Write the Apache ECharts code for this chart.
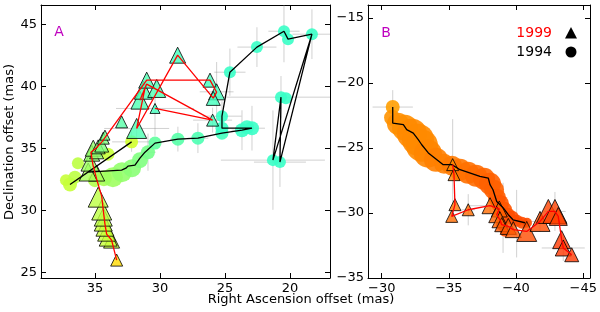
<!DOCTYPE html>
<html><head><meta charset="utf-8">
<script src="https://cdn.jsdelivr.net/npm/echarts@6/dist/echarts.min.js"></script>
<style>html,body{margin:0;padding:0;background:#fff}#c{width:600px;height:312px}</style>
</head><body><div id="c"></div>
<script>
// ---------- Panel A (1994 circles) ----------
const circA_x = [36.92,37.23,36.54,36.31,35.0,34.31,34.0,32.18,33.62,32.92,32.15,31.54,30.92,30.38,28.62,27.08,25.23,25.23,23.69,23.31,22.92,25.23,24.62,22.54,20.46,20.15,18.31,20.69,20.31,21.31,20.77];
const circA_y = [32.10,32.45,32.69,33.81,32.45,32.61,34.54,35.53,32.69,33.09,33.41,34.06,34.70,35.43,35.75,35.83,36.23,36.63,36.47,36.71,36.63,37.60,41.14,43.16,44.44,43.80,44.20,39.13,39.05,34.06,33.90];
const circA_flux = [7,6,6.5,6,7,8,6.5,6.5,10,10,9,8,7,6.5,6.5,6.5,6.5,6.5,7,7,7,6,6,6,6,6,6,6,6,6,6];
const circA_vel = [0.57,0.57,0.56,0.56,0.55,0.54,0.57,0.58,0.53,0.52,0.51,0.5,0.49,0.47,0.46,0.45,0.44,0.43,0.43,0.43,0.43,0.43,0.43,0.43,0.43,0.43,0.43,0.43,0.43,0.43,0.43];
const trackA94_x = [32.18,36.92,35.54,32.95,32.62,32.46,31.92,31.54,31.15,30.38,28.62,27.08,25.23,23.69,22.92,25.23,25.23,24.62,22.54,20.46,20.15,18.31,21.31,20.69,20.77,18.31];
const trackA94_y = [35.53,32.10,33.09,33.25,33.41,33.58,33.66,34.22,34.70,35.43,35.75,35.83,36.23,36.47,36.63,36.63,37.60,41.14,43.16,44.44,43.80,44.20,34.06,39.13,33.90,44.20];
// ---------- Panel A (1999 triangles) ----------
const triA_x = [33.33,33.72,33.98,34.10,34.23,34.36,34.36,34.48,34.75,34.87,35.52,35.38,35.25,35.13,34.87,34.75,34.48,34.36,34.23,32.95,31.79,31.54,31.28,31.02,30.25,30.38,28.64,26.15,25.64,25.90,25.95];
const triA_y = [26.01,27.62,27.86,28.26,28.66,29.07,29.47,30.04,31.08,33.02,33.10,33.90,34.62,35.02,34.73,35.13,35.27,35.83,36.07,37.14,36.61,38.89,39.69,40.50,39.83,38.22,42.51,40.50,39.56,39.03,37.28];
const triA_flux = [6,8,9,9,9,9,9,10,10,8,9,9,8,8,7,7,7,6,5,6,10,9,9,8,9,5,8,7,8,7,6];
const triA_vel = [0.66,0.57,0.57,0.57,0.57,0.57,0.56,0.56,0.56,0.54,0.54,0.53,0.52,0.52,0.52,0.51,0.5,0.5,0.49,0.46,0.45,0.45,0.45,0.45,0.45,0.44,0.44,0.44,0.44,0.44,0.44];
const trackA99_x = [33.33,33.72,34.10,34.23,34.36,34.48,34.85,35.15,35.31,34.92,34.48,31.02,26.15,25.64,25.90,28.64,31.79,31.15,31.54,31.02,25.95,30.38];
const trackA99_y = [26.01,27.62,28.10,28.91,30.04,31.16,32.45,33.66,34.70,35.02,35.51,40.50,40.50,39.53,39.05,42.51,36.61,39.86,38.89,40.18,37.28,38.22];
const errA_x  = [18.31,20.46,22.54,24.62,20.69,21.31,20.77,22.92,23.69,25.23,25.95,30.38,31.79,25.64,32.18,30.92,27.08,28.62];
const errA_y  = [44.20,44.44,43.16,41.14,39.13,34.06,33.90,36.63,36.47,37.60,37.28,38.22,36.61,39.56,35.53,34.70,35.83,35.75];
const errA_dx = [1.5,1.2,1.5,1.2,5.2,4.0,2.0,1.0,0.8,1.5,1.5,3.0,2.5,1.3,1.5,0.6,0.8,0.6];
const errA_dy = [2.0,2.5,1.6,1.9,1.7,4.0,2.0,1.8,1.6,1.2,1.0,2.2,0.8,2.4,0.8,1.5,1.2,1.0];
// ---------- Panel B (1994 circles) ----------
const circB_x = [-30.82,-30.77,-31.21,-31.73,-32.25,-32.70,-33.00,-33.44,-34.04,-34.64,-35.23,-35.83,-36.42,-37.02,-37.62,-38.06,-38.36,-38.58,-38.80,-39.10,-39.40,-39.70,-40.07,-40.44,-40.81,-38.95,-39.17];
const circB_y = [-21.85,-22.67,-23.13,-23.44,-23.90,-24.36,-24.82,-25.44,-25.90,-26.21,-26.36,-26.67,-26.90,-27.13,-27.36,-27.75,-28.21,-28.82,-29.28,-29.75,-30.13,-30.36,-30.59,-30.75,-30.75,-30.90,-31.44];
const circB_flux = [7,8,11,13,15,16,16,14,12,10,10,11,11,11,11,11,10,9,9,8,7,7,6,6,5,6,5];
const circB_vel = [0.72,0.73,0.735,0.735,0.74,0.74,0.74,0.745,0.75,0.75,0.755,0.76,0.765,0.77,0.775,0.78,0.78,0.785,0.79,0.79,0.795,0.8,0.8,0.8,0.8,0.8,0.8];
const trackB94_x = [-30.82,-30.82,-31.61,-31.86,-32.35,-32.72,-32.98,-33.47,-34.58,-35.21,-35.83,-37.31,-37.93,-38.06,-38.28,-38.56,-39.03,-39.42,-39.77,-40.66];
const trackB94_y = [-21.85,-23.08,-23.21,-23.59,-23.85,-24.36,-24.75,-25.38,-26.28,-26.28,-26.67,-27.18,-27.31,-27.82,-28.21,-29.11,-29.59,-30.13,-30.52,-30.75];
// ---------- Panel B (1999 triangles) ----------
const triB_x = [-35.28,-35.38,-35.45,-35.21,-36.44,-38.06,-38.75,-38.56,-38.80,-38.93,-39.42,-39.79,-40.79,-41.78,-42.40,-42.89,-43.14,-43.39,-43.51,-44.14];
const triB_y = [-26.28,-27.05,-29.36,-30.26,-29.75,-29.44,-29.69,-30.13,-30.52,-30.90,-31.03,-31.28,-31.42,-30.65,-29.88,-29.88,-30.26,-32.05,-32.69,-33.21];
const triB_flux = [6,6,6,6,6,8,8,8,8,7,8,8,10,10,12,12,9,9,8,7];
const triB_vel = [0.74,0.75,0.76,0.77,0.77,0.77,0.78,0.78,0.78,0.79,0.79,0.79,0.8,0.8,0.81,0.81,0.81,0.82,0.82,0.82];
const errB_x  = [-30.82,-35.28,-35.23,-39.03,-40.04,-41.78,-43.51,-38.06,-36.44,-42.89];
const errB_y  = [-21.85,-26.28,-26.36,-30.37,-30.82,-30.65,-32.69,-29.44,-29.75,-29.88];
const errB_dx = [1.5,0.6,1.8,0.6,1.0,2.0,1.6,1.5,0.5,0.8];
const errB_dy = [1.3,3.5,0.5,2.7,2.6,0.8,1.0,0.6,1.2,1.5];
// ---------- ticks ----------
const ticksAx = [20,25,30,35];
const ticksAy = [25,30,35,40,45];
const ticksBx = [-45,-40,-35,-30];
const ticksBy = [-35,-30,-25,-20,-15];

function jet(t){const c=v=>Math.round(255*Math.max(0,Math.min(1,v)));return 'rgb('+c(1.5-Math.abs(4*t-3))+','+c(1.5-Math.abs(4*t-2))+','+c(1.5-Math.abs(4*t-1))+')';}
const sz = f => 2*f;
const FONT = 'DejaVu Sans';
const minus = v => String(v).replace('-', '\u2212');

function circles(xs,ys,fl,vel,xi){return {type:'scatter',xAxisIndex:xi,yAxisIndex:xi,symbol:'circle',silent:true,
  data:xs.map((x,i)=>({value:[x,ys[i]],symbolSize:sz(fl[i]),itemStyle:{color:jet(vel[i]),opacity:0.9}}))};}
function tris(xs,ys,fl,vel,xi){return {type:'scatter',xAxisIndex:xi,yAxisIndex:xi,symbol:'triangle',silent:true,
  data:xs.map((x,i)=>({value:[x,ys[i]],symbolSize:sz(fl[i]),itemStyle:{color:jet(vel[i]),borderColor:'#000',borderWidth:1}}))};}
function track(xs,ys,col,xi){return {type:'line',xAxisIndex:xi,yAxisIndex:xi,symbol:'none',silent:true,
  lineStyle:{color:col,width:1.3},data:xs.map((x,i)=>[x,ys[i]])};}
function errs(xs,ys,dx,dy,xi){return {type:'custom',xAxisIndex:xi,yAxisIndex:xi,silent:true,clip:true,encode:{x:0,y:1},
  data:xs.map((x,i)=>[x,ys[i],dx[i],dy[i]]),
  renderItem:(p,api)=>{const x=api.value(0),y=api.value(1),ex=api.value(2),ey=api.value(3);
    const a=api.coord([x-ex,y]),b=api.coord([x+ex,y]),c=api.coord([x,y-ey]),d=api.coord([x,y+ey]);
    const st={stroke:'rgba(140,140,140,0.4)',lineWidth:1};
    return {type:'group',children:[{type:'line',shape:{x1:a[0],y1:a[1],x2:b[0],y2:b[1]},style:st},{type:'line',shape:{x1:c[0],y1:c[1],x2:d[0],y2:d[1]},style:st}]};}};}

function axis(pos,grid,min,max,ticks,inverse,showLabel,fmt){
  return {type:'value',gridIndex:grid,position:pos,min:min,max:max,inverse:inverse,
    axisLine:{show:true,onZero:false,lineStyle:{color:'#000',width:1}},
    axisTick:{show:true,inside:true,length:5,customValues:ticks,lineStyle:{color:'#000',width:1}},
    axisLabel:{show:showLabel,customValues:ticks,margin:4,color:'#000',fontSize:13,fontFamily:FONT,formatter:fmt||(v=>String(v))},
    splitLine:{show:false}};
}

const chart = echarts.init(document.getElementById('c'),null,{renderer:'canvas'});
chart.setOption({
  animation:false,
  backgroundColor:'#fff',
  grid:[{left:41,top:5,width:289,height:273},{left:368,top:5,width:222,height:273}],
  xAxis:[axis('bottom',0,16.92,39.15,ticksAx,true,true),axis('top',0,16.92,39.15,ticksAx,true,false),
         axis('bottom',1,-45.5,-28.98,ticksBx,true,true,minus),axis('top',1,-45.5,-28.98,ticksBx,true,false)],
  yAxis:[axis('left',0,24.57,46.55,ticksAy,false,true),axis('right',0,24.57,46.55,ticksAy,false,false),
         axis('left',1,-35,-14,ticksBy,false,true,minus),axis('right',1,-35,-14,ticksBy,false,false)],
  series:[
    circles(circA_x,circA_y,circA_flux,circA_vel,0),
    errs(errA_x,errA_y,errA_dx,errA_dy,0),
    tris(triA_x,triA_y,triA_flux,triA_vel,0),
    track(trackA94_x,trackA94_y,'#000',0),
    track(trackA99_x,trackA99_y,'#ff0000',0),
    circles(circB_x,circB_y,circB_flux,circB_vel,2),
    errs(errB_x,errB_y,errB_dx,errB_dy,2),
    tris(triB_x,triB_y,triB_flux,triB_vel,2),
    track(trackB94_x,trackB94_y,'#000',2),
    track(triB_x,triB_y,'#ff0000',2)
  ],
  graphic:[
    {type:'text',x:301,y:300,style:{text:'Right Ascension offset (mas)',fontSize:13,fontFamily:FONT,fill:'#000',align:'center',verticalAlign:'middle'}},
    {type:'text',x:10,y:142,rotation:Math.PI/2,style:{text:'Declination offset (mas)',fontSize:13,fontFamily:FONT,fill:'#000',align:'center',verticalAlign:'middle'}},
    {type:'text',x:59,y:32,style:{text:'A',fontSize:14,fontFamily:FONT,fill:'#bf00bf',align:'center',verticalAlign:'middle'}},
    {type:'text',x:386,y:33,style:{text:'B',fontSize:14,fontFamily:FONT,fill:'#bf00bf',align:'center',verticalAlign:'middle'}},
    {type:'text',x:552,y:33,style:{text:'1999',fontSize:14,fontFamily:FONT,fill:'#ff0000',align:'right',verticalAlign:'middle'}},
    {type:'text',x:552,y:52,style:{text:'1994',fontSize:14,fontFamily:FONT,fill:'#000',align:'right',verticalAlign:'middle'}},
    {type:'polygon',shape:{points:[[571,27],[565,38.5],[577,38.5]]},style:{fill:'#000'}},
    {type:'circle',shape:{cx:571,cy:52,r:5.5},style:{fill:'#000'}}
  ]
});
</script></body></html>
